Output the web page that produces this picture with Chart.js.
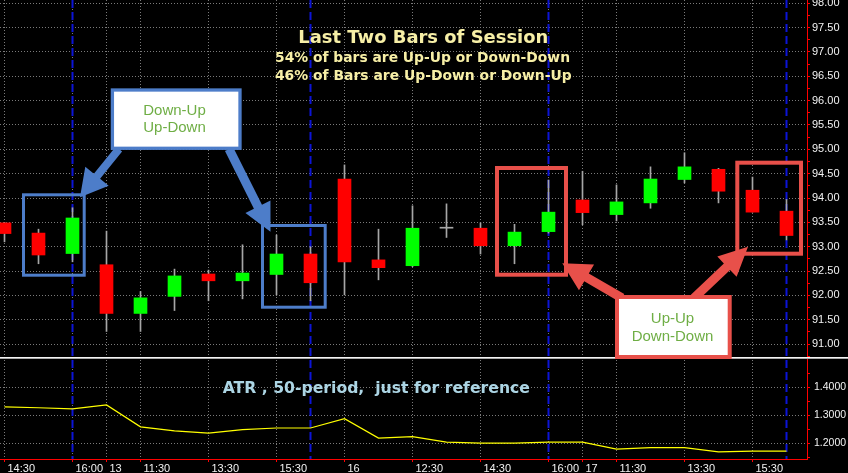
<!DOCTYPE html>
<html><head><meta charset="utf-8">
<script src="https://cdn.jsdelivr.net/npm/chart.js@4"></script>
<style>html,body{margin:0;padding:0;background:#000;overflow:hidden}canvas{display:block}</style>
</head><body>
<canvas id="c" width="848" height="473"></canvas>
<script>
// ---------- data ----------
const barIndex = [0,1,2,3,4,5,6,7,8,9,10,11,12,13,14,15,16,17,18,19,20,21,22,23];
const opens  = [93.49,93.28,92.86,92.63,91.63,91.98,92.44,92.30,92.43,92.85,94.39,92.73,92.61,93.38,93.38,93.02,93.31,93.96,93.66,93.90,94.38,94.59,94.16,93.73];
const highs  = [93.50,93.36,93.80,93.32,92.08,92.54,92.52,93.04,93.24,93.00,94.68,93.36,93.84,93.88,93.49,93.46,94.37,94.55,94.27,94.64,94.93,94.61,94.43,93.97];
const lows   = [93.10,92.65,92.69,91.26,91.26,91.69,91.89,91.93,92.01,91.89,92.01,92.32,92.59,93.19,92.85,92.65,93.28,93.45,93.53,93.79,94.31,93.90,93.71,93.14];
const closes = [93.27,92.83,93.59,91.63,91.95,92.40,92.30,92.46,92.85,92.26,92.69,92.57,93.38,93.38,93.02,93.30,93.71,93.70,93.92,94.39,94.64,94.14,93.71,93.23];
const atrValues = [1.330,1.327,1.323,1.337,1.259,1.245,1.237,1.249,1.255,1.255,1.288,1.219,1.224,1.205,1.201,1.201,1.205,1.205,1.180,1.185,1.185,1.170,1.173,1.173];
const xTickIndex  = [0,2,3,4,6,8,10,12,14,16,17,18,20,22];
const xTickLabels = ['14:30','16:00','13','11:30','13:30','15:30','16','12:30','14:30','16:00','17','11:30','13:30','15:30'];
const sessionEndIndex = [2,9,16,23];
const priceTickLabels = ['91.00','91.50','92.00','92.50','93.00','93.50','94.00','94.50','95.00','95.50','96.00','96.50','97.00','97.50','98.00'];
const atrTickLabels = ['1.2000','1.3000','1.4000'];
const titleText = 'Last Two Bars of Session';
const subtitleLines = ['54% of bars are Up-Up or Down-Down','46% of Bars are Up-Down or Down-Up'];
const atrCaption = 'ATR , 50-period,  just for reference';
const calloutBlue = ['Down-Up','Up-Down'];
const calloutRed = ['Up-Up','Down-Down'];

// ---------- styles ----------
const GRID = '#7a7a7a', AXIS = '#ff0000', LBL = '#f2f2f2';
const BLUE = '#4d7dc9', RED = '#e8504a', TXTGREEN = '#6fae45';

function fitText(ctx, text, cx, base, width, font, color) {
  ctx.save(); ctx.font = font; ctx.fillStyle = color; ctx.textAlign = 'center'; ctx.textBaseline = 'alphabetic';
  const w = ctx.measureText(text).width; const s = width ? width / w : 1;
  ctx.translate(cx, base); ctx.scale(s, 1); ctx.fillText(text, 0, 0); ctx.restore();
}
function arrow(ctx, x1, y1, x2, y2, sw, hl, hw, color) {
  const dx = x2 - x1, dy = y2 - y1, L = Math.hypot(dx, dy), ux = dx / L, uy = dy / L, px = -uy, py = ux;
  const bx = x2 - ux * hl, by = y2 - uy * hl;
  ctx.beginPath();
  ctx.moveTo(x1 + px * sw / 2, y1 + py * sw / 2);
  ctx.lineTo(bx + px * sw / 2, by + py * sw / 2);
  ctx.lineTo(bx + px * hw / 2, by + py * hw / 2);
  ctx.lineTo(x2, y2);
  ctx.lineTo(bx - px * hw / 2, by - py * hw / 2);
  ctx.lineTo(bx - px * sw / 2, by - py * sw / 2);
  ctx.lineTo(x1 - px * sw / 2, y1 - py * sw / 2);
  ctx.closePath(); ctx.fillStyle = color; ctx.fill();
}

const overlay = {
  id: 'overlay',
  beforeDatasetsDraw(chart) {
    const {ctx, chartArea, scales: {x}} = chart;
    ctx.save();
    ctx.strokeStyle = '#0c14d6'; ctx.lineWidth = 2; ctx.setLineDash([8, 4]);
    sessionEndIndex.forEach(i => {
      const px = x.getPixelForValue(i);
      ctx.beginPath(); ctx.moveTo(px, chartArea.top); ctx.lineTo(px, chartArea.bottom); ctx.stroke();
    });
    ctx.restore();
  },
  afterDatasetsDraw(chart) {
    const {ctx, scales: {yAtr}} = chart;
    ctx.save();
    // panel separator
    const sy = Math.round(yAtr.top);
    ctx.fillStyle = '#f4f4f4'; ctx.fillRect(0, sy - 1, chart.width, 1);
    ctx.fillStyle = '#a8a8a8'; ctx.fillRect(0, sy, chart.width, 1);
    // highlight boxes
    ctx.strokeStyle = BLUE; ctx.lineWidth = 3;
    ctx.strokeRect(23.5, 194.8, 60.7, 80.4);
    ctx.strokeRect(262.5, 225.5, 62.7, 81.7);
    ctx.strokeStyle = RED; ctx.lineWidth = 4;
    ctx.strokeRect(497, 168, 69, 106.7);
    ctx.strokeRect(737.3, 162.7, 63.7, 91);
    // arrows
    arrow(ctx, 119, 149, 80, 197.3, 8, 27, 30, BLUE);
    arrow(ctx, 229, 149, 270.5, 231.7, 9, 28, 28, BLUE);
    arrow(ctx, 622, 298, 562.3, 263.3, 9, 28, 30, RED);
    arrow(ctx, 694, 298, 748, 246.7, 9, 29, 28, RED);
    // callouts
    ctx.fillStyle = '#ffffff';
    ctx.fillRect(112, 90, 128, 58);
    ctx.strokeStyle = BLUE; ctx.lineWidth = 3.3; ctx.strokeRect(112.4, 90, 127.6, 58.3);
    ctx.fillStyle = '#ffffff';
    ctx.fillRect(617, 297, 113, 60);
    ctx.strokeStyle = RED; ctx.lineWidth = 4; ctx.strokeRect(617, 297, 112.7, 60);
    const cf = '15px "Liberation Sans", Arial, sans-serif';
    fitText(ctx, calloutBlue[0], 174.5, 115, 0, cf, TXTGREEN);
    fitText(ctx, calloutBlue[1], 174.5, 132.3, 0, cf, TXTGREEN);
    fitText(ctx, calloutRed[0], 672.5, 323.3, 0, cf, TXTGREEN);
    fitText(ctx, calloutRed[1], 672.5, 341, 0, cf, TXTGREEN);
    // titles
    fitText(ctx, titleText, 423.3, 42.7, 250, 'bold 18px "DejaVu Sans", sans-serif', '#f7efa6');
    fitText(ctx, subtitleLines[0], 422.5, 61.5, 295, 'bold 13.5px "DejaVu Sans", sans-serif', '#f7efa6');
    fitText(ctx, subtitleLines[1], 423.3, 79.5, 296.7, 'bold 13.5px "DejaVu Sans", sans-serif', '#f7efa6');
    fitText(ctx, atrCaption, 376.3, 393.3, 307.3, 'bold 15px "DejaVu Sans", sans-serif', '#acd5e4');
    ctx.restore();
  }
};

const isLabel = (labels, v) => labels.find(t => Math.abs(parseFloat(t) - v) < 1e-6);

new Chart(document.getElementById('c'), {
  type: 'bar',
  data: {
    datasets: [
      { type: 'bar', label: 'Body', yAxisID: 'y', order: 1, grouped: false, barThickness: 13, minBarLength: 1, borderWidth: 0,
        data: barIndex.map(i => ({x: i, y: [opens[i], closes[i]]})),
        backgroundColor: c => { const i = c.dataIndex; if (i === undefined) return '#00ff00';
          return closes[i] > opens[i] ? '#00ff00' : (closes[i] < opens[i] ? '#ff0000' : '#a6a6a6'); } },
      { type: 'bar', label: 'Wick', yAxisID: 'y', order: 2, grouped: false, barThickness: 1, borderWidth: 0,
        data: barIndex.map(i => ({x: i, y: [lows[i], highs[i]]})), backgroundColor: '#a6a6a6' },
      { type: 'line', label: 'ATR', yAxisID: 'yAtr', order: 0, borderColor: '#ffff00', borderWidth: 1.2, pointRadius: 0, tension: 0,
        data: barIndex.map(i => ({x: i, y: atrValues[i]})) }
    ]
  },
  options: {
    responsive: false, animation: false, devicePixelRatio: 1, events: [],
    layout: {padding: 0},
    plugins: {legend: {display: false}, tooltip: {enabled: false}, title: {display: false}},
    scales: {
      x: {
        type: 'linear', position: 'bottom', min: -0.1324, max: 23.603, offset: false,
        grid: {color: GRID, lineWidth: 1, drawTicks: true, tickLength: 3, tickColor: AXIS, offset: false},
        border: {display: true, color: AXIS, width: 1, dash: [1, 2]},
        ticks: {autoSkip: false, maxRotation: 0, minRotation: 0, align: 'start', labelOffset: 3, padding: 0, color: LBL,
          font: {family: '"Liberation Sans", Arial, sans-serif', size: 11}, callback: (v, i) => xTickLabels[i] ?? ''},
        afterBuildTicks: s => { s.ticks = xTickIndex.map(v => ({value: v})); },
        afterFit: s => { s.height = 14; s.paddingLeft = 0; s.paddingRight = 0; }
      },
      y: {
        type: 'linear', position: 'right', stack: 'panels', stackWeight: 358, min: 90.715, max: 98.066,
        grid: {color: c => (c.tick && isLabel(priceTickLabels, c.tick.value)) ? GRID : 'rgba(0,0,0,0)', drawTicks: true, tickLength: 3, tickColor: AXIS},
        border: {display: true, color: AXIS, width: 1, dash: [1, 2]},
        ticks: {autoSkip: false, padding: 2, color: LBL, font: {family: '"Liberation Sans", Arial, sans-serif', size: 11},
          callback: v => isLabel(priceTickLabels, v) ?? ''},
        afterBuildTicks: s => { const t = [];
          priceTickLabels.forEach(l => { const p = parseFloat(l); t.push(p); if (p + 0.25 < s.max) t.push(p + 0.25); });
          t.unshift(parseFloat(priceTickLabels[0]) - 0.25);
          s.ticks = t.filter(v => v >= s.min && v <= s.max).map(v => ({value: v})); },
        afterFit: s => { s.width = 41; s.paddingTop = 0; s.paddingBottom = 0; }
      },
      yAtr: {
        type: 'linear', position: 'right', stack: 'panels', stackWeight: 101, min: 1.1447, max: 1.5039,
        grid: {color: c => (c.tick && isLabel(atrTickLabels, c.tick.value)) ? GRID : 'rgba(0,0,0,0)', drawTicks: true, tickLength: 3, tickColor: AXIS},
        border: {display: true, color: AXIS, width: 1, dash: [1, 2]},
        ticks: {autoSkip: false, padding: 4, color: LBL, font: {family: '"Liberation Sans", Arial, sans-serif', size: 10.5},
          callback: v => isLabel(atrTickLabels, v) ?? ''},
        afterBuildTicks: s => { const t = [];
          atrTickLabels.forEach(l => { const p = parseFloat(l); t.push(p - 0.05); t.push(p); });
          t.push(parseFloat(atrTickLabels[atrTickLabels.length - 1]) + 0.05);
          s.ticks = t.filter(v => v >= s.min && v <= s.max).map(v => ({value: Math.round(v * 1e4) / 1e4})); },
        afterFit: s => { s.width = 41; s.paddingTop = 0; s.paddingBottom = 0; }
      }
    }
  },
  plugins: [overlay]
});
</script>
</body></html>
